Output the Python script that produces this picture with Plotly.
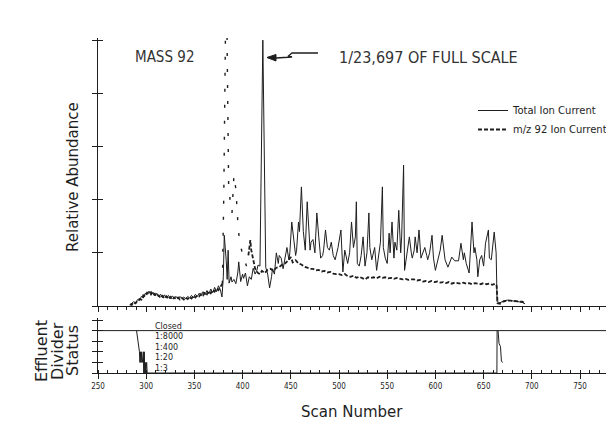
import plotly.graph_objects as go

# ---------------- data ----------------
tic_scan = [283, 285, 287, 289, 291, 293, 295, 297, 299, 301, 303, 305, 307, 309, 311, 313, 315, 317, 319, 321,
            323, 325, 327, 329, 331, 333, 335, 337, 339, 341, 343, 345, 347, 349, 351, 353, 355, 357, 359, 361,
            363, 365, 367, 369, 371, 373, 375, 377, 378.6, 380, 381, 383, 384, 385, 386, 388, 389, 391, 393, 395,
            396, 398, 400, 401, 403, 405, 407, 409, 411, 413, 415, 416, 418, 421, 423.5, 424, 426, 428, 430, 431,
            433, 435, 437, 438, 440, 442, 443, 446, 448, 449, 451, 453, 455, 456, 458, 459, 461, 463, 465, 467,
            469, 470, 471, 473, 475, 477, 479, 481, 483, 484, 486, 488, 490, 492, 494, 496, 499, 502, 504, 506,
            509, 511, 513, 515, 517, 518, 519, 521, 523, 525, 527, 529, 531, 532, 534, 537, 539, 541, 543, 545,
            546, 548, 550, 552, 553, 555, 557, 558, 560, 562, 564, 565, 567, 568, 570, 571, 573, 575, 576, 578,
            579, 581, 583, 585, 587, 589, 591, 592, 594, 596.5, 598, 600, 603, 605, 607, 610, 613, 617, 620, 624,
            626.5, 628, 629, 630, 632, 635, 638, 640, 641, 643, 644, 646, 648, 650, 652, 655, 656, 658, 661, 663,
            664, 667, 671, 675, 678, 682, 687, 690, 693]
tic_value = [0.02, 0.05, 0.08, 0.06, 0.12, 0.10, 0.18, 0.15, 0.24, 0.22, 0.28, 0.20, 0.26, 0.19, 0.24, 0.17, 0.22, 0.16, 0.21, 0.15,
             0.20, 0.14, 0.19, 0.15, 0.18, 0.13, 0.18, 0.14, 0.17, 0.13, 0.18, 0.15, 0.20, 0.16, 0.22, 0.18, 0.24, 0.19, 0.27, 0.21,
             0.29, 0.23, 0.32, 0.25, 0.35, 0.27, 0.38, 0.30, 0.17, 0.55, 1.33, 0.86, 0.50, 1.05, 0.43, 0.55, 0.45, 0.50, 0.42, 0.62,
             0.83, 0.46, 0.60, 0.52, 0.62, 0.38, 0.55, 0.50, 0.71, 0.60, 0.68, 0.77, 0.75, 5.00, 0.80, 0.73, 0.60, 0.34, 0.55, 0.70,
             0.60, 1.00, 0.80, 0.95, 0.90, 0.70, 0.80, 1.10, 0.87, 1.00, 1.58, 1.20, 0.95, 1.05, 1.58, 1.40, 2.24, 1.40, 1.05, 1.96,
             1.15, 1.05, 1.20, 1.25, 1.00, 1.75, 1.30, 0.90, 0.95, 1.05, 1.43, 1.10, 1.05, 1.20, 0.95, 0.87, 1.10, 1.43, 0.64, 1.05,
             0.80, 1.00, 1.58, 1.10, 1.30, 1.96, 0.80, 0.75, 0.95, 1.30, 0.75, 1.00, 1.75, 1.10, 0.87, 1.10, 0.67, 0.90, 1.20, 2.24,
             1.10, 0.90, 0.80, 1.37, 1.00, 1.58, 0.90, 1.20, 1.05, 1.80, 1.00, 1.30, 2.65, 0.67, 0.95, 1.10, 1.30, 1.00, 0.90, 1.05,
             1.30, 1.00, 1.43, 0.90, 1.00, 1.10, 0.95, 0.87, 1.00, 1.33, 0.90, 0.67, 0.90, 1.05, 1.33, 0.87, 0.73, 0.92, 0.85, 0.85,
             1.18, 0.95, 0.87, 1.00, 0.80, 0.62, 1.58, 1.00, 1.10, 0.87, 0.55, 0.87, 0.95, 0.75, 1.18, 1.43, 0.90, 0.87, 1.39, 1.00,
             0.08, 0.06, 0.10, 0.11, 0.10, 0.09, 0.08, 0.07, 0.04]

mz92_scan = [283, 285, 287, 289, 291, 293, 295, 297, 299, 301, 303, 305, 307, 309, 311, 313, 315, 317, 319, 321,
             323, 325, 327, 329, 331, 333, 335, 337, 339, 341, 343, 345, 347, 349, 351, 353, 355, 357, 359, 361,
             363, 365, 367, 369, 371, 373, 375, 377, 379, 380.5, 383, 385.5, 387, 389, 391, 393, 395, 396, 397, 399,
             400, 402, 404, 406, 408, 409, 411, 413, 416, 418, 420, 423, 426, 429, 432, 435, 438, 441, 444, 447,
             450, 452, 455, 458, 461, 464, 467, 470, 473, 476, 479, 482, 485, 488, 491, 494, 497, 500, 503, 506,
             509, 512, 515, 518, 521, 524, 527, 530, 533, 536, 539, 542, 545, 548, 551, 554, 557, 560, 563, 566,
             569, 572, 575, 578, 581, 584, 587, 590, 593, 596, 599, 602, 605, 608, 611, 614, 617, 620, 623, 626,
             629, 632, 635, 638, 641, 644, 647, 650, 653, 656, 659, 662, 663.5, 664.5, 667, 670, 674, 678, 682, 686,
             690, 693]
mz92_value = [0.03, 0.02, 0.07, 0.05, 0.10, 0.13, 0.12, 0.20, 0.18, 0.25, 0.22, 0.26, 0.20, 0.23, 0.18, 0.20, 0.15, 0.19, 0.14, 0.18,
              0.13, 0.17, 0.12, 0.16, 0.13, 0.16, 0.12, 0.15, 0.12, 0.16, 0.13, 0.17, 0.14, 0.19, 0.16, 0.20, 0.18, 0.23, 0.20, 0.26,
              0.22, 0.28, 0.24, 0.30, 0.27, 0.33, 0.30, 0.36, 0.42, 2.10, 6.50, 2.30, 2.00, 1.75, 2.46, 2.20, 1.60, 1.37, 1.15, 1.05,
              0.90, 0.87, 0.75, 0.95, 1.24, 1.05, 0.85, 0.70, 0.62, 0.60, 0.66, 0.62, 0.68, 0.70, 0.66, 0.72, 0.73, 0.78, 0.80, 0.85,
              0.92, 0.82, 0.86, 0.80, 0.78, 0.74, 0.72, 0.70, 0.70, 0.67, 0.68, 0.65, 0.66, 0.63, 0.64, 0.61, 0.60, 0.60, 0.58, 0.60,
              0.56, 0.55, 0.57, 0.53, 0.55, 0.52, 0.50, 0.54, 0.53, 0.54, 0.52, 0.55, 0.53, 0.54, 0.52, 0.53, 0.51, 0.53, 0.52, 0.50,
              0.51, 0.49, 0.50, 0.50, 0.48, 0.49, 0.46, 0.47, 0.45, 0.47, 0.45, 0.46, 0.44, 0.45, 0.43, 0.45, 0.42, 0.44, 0.43, 0.42,
              0.44, 0.42, 0.43, 0.41, 0.43, 0.42, 0.41, 0.43, 0.41, 0.42, 0.40, 0.42, 0.38, 0.05, 0.04, 0.08, 0.10, 0.10, 0.09, 0.09,
              0.08, 0.05]
# the steep m/z 92 burst (scans 379-406) prints as sparse plotter dots
mz92_burst = (379, 406)

status_labels = ["1:3", "1:20", "1:400", "1:8000", "Closed"]
status_levels = [0, 1, 2, 3, 4]
closed_scan = [250, 800]
closed_level = [4, 4]
status_scan = [290, 291.5, 292.5, 293, 293.5, 294, 294.5, 295, 295.5, 296, 297, 297.5, 298, 298.5, 299, 299.5, 300,
               300.5, 301, 301.5, 663.8, 664, None, 665, 666, 667.5, 668.5, 670]
status_level = [4, 3, 2, 2, 1, 2, 1, 2, 1, 1, 2, 0, 2, 0, 1, 0, 1,
                1, 0, 0, 0, 4, None, 4, 2.8, 2.5, 1.1, 1.0]

x_ticks = [250, 300, 350, 400, 450, 500, 550, 600, 650, 700, 750]

# ---------------- figure ----------------
INK = "#1e1e1e"
# the page body adds an 8px offset, so the figure is made 8px smaller
W, H = 606, 416
L, R, T, B = 90, 0, 30, 51
PW, PH = W - L - R, H - T - B          # 516 x 335
SX0, SY1 = 98, 373                     # screen px of the plot's left / bottom edge


def paper(X, Y):
    """screen pixel -> paper coordinates"""
    return (X - SX0) / PW, (SY1 - Y) / PH


# split the m/z 92 series into the ordinary parts and the burst (both from the same arrays)
i0 = mz92_scan.index(mz92_burst[0])
i1 = mz92_scan.index(mz92_burst[1])
m_x = mz92_scan[:i0 + 1] + [None] + mz92_scan[i1:]
m_y = mz92_value[:i0 + 1] + [None] + mz92_value[i1:]
b_x = mz92_scan[i0:i1 + 1]
b_y = mz92_value[i0:i1 + 1]

fig = go.Figure()
fig.add_trace(go.Scatter(x=tic_scan, y=tic_value, mode="lines", name="Total Ion Current",
                         line=dict(color=INK, width=1)))
fig.add_trace(go.Scatter(x=m_x, y=m_y, mode="lines", name="m/z 92 Ion Current", legendgroup="m92",
                         connectgaps=False, line=dict(color=INK, width=1.8, dash="4px,2px")))
fig.add_trace(go.Scatter(x=b_x, y=b_y, mode="lines", showlegend=False, legendgroup="m92",
                         line=dict(color=INK, width=1.4, dash="3px,13px")))
fig.add_trace(go.Scatter(x=closed_scan, y=closed_level, mode="lines", showlegend=False,
                         line=dict(color=INK, width=1), xaxis="x2", yaxis="y2"))
fig.add_trace(go.Scatter(x=status_scan, y=status_level, mode="lines", showlegend=False,
                         line=dict(color=INK, width=1), xaxis="x2", yaxis="y2"))
# helper traces for the inward half of the cross ticks
fig.add_trace(go.Scatter(x=[None], y=[None], xaxis="x", yaxis="y3", showlegend=False, hoverinfo="skip"))
fig.add_trace(go.Scatter(x=[None], y=[None], xaxis="x2", yaxis="y4", showlegend=False, hoverinfo="skip"))

x0 = 250
x1 = 250 + PW / 0.964
y_main_lo = paper(0, 306)[1]
y_bot_hi = paper(0, 318)[1]

common_x = dict(range=[x0, x1], showgrid=False, zeroline=False, showline=True, linecolor=INK, linewidth=1,
                ticks="outside", tickcolor=INK, tickwidth=1, ticklen=5, tick0=250, dtick=50)
fig.update_layout(
    width=W, height=H, margin=dict(l=L, r=R, t=T, b=B),
    plot_bgcolor="white", paper_bgcolor="white",
    xaxis=dict(**common_x, domain=[0, 1], anchor="y", showticklabels=False,
               minor=dict(ticks="outside", ticklen=3, dtick=10, tickcolor=INK, showgrid=False)),
    yaxis=dict(domain=[y_main_lo, 1], range=[0, 5.04], showgrid=False, zeroline=False, showline=True,
               linecolor=INK, linewidth=1, ticks="outside", ticklen=5, tickcolor=INK, dtick=1,
               showticklabels=False, anchor="x"),
    yaxis3=dict(overlaying="y", anchor="x", range=[0, 5.04], showgrid=False, zeroline=False, showline=False,
                ticks="inside", ticklen=5, tickcolor=INK, dtick=1, showticklabels=False),
    xaxis2=dict(**common_x, domain=[0, 1], anchor="y2", showticklabels=True,
                tickvals=x_ticks, ticktext=[str(v) for v in x_ticks],
                tickfont=dict(family="Liberation Sans Narrow, DejaVu Sans Condensed, sans-serif", size=8, color=INK),
                minor=dict(ticks="inside", ticklen=3, dtick=10, tickcolor=INK, showgrid=False)),
    yaxis2=dict(domain=[0, y_bot_hi], range=[0, 5.19], showgrid=False, zeroline=False, showline=True,
                linecolor=INK, linewidth=1, ticks="outside", ticklen=5, tickcolor=INK, dtick=1,
                showticklabels=False, anchor="x2"),
    yaxis4=dict(overlaying="y2", anchor="x2", range=[0, 5.19], showgrid=False, zeroline=False, showline=False,
                ticks="inside", ticklen=5, tickcolor=INK, dtick=1, showticklabels=False),
    legend=dict(x=paper(473, 0)[0], y=paper(0, 96)[1], xanchor="left", yanchor="top",
                font=dict(family="DejaVu Sans", size=10, color=INK), bgcolor="rgba(0,0,0,0)",
                tracegroupgap=0),
    showlegend=True,
)

ann = []
plot_font = dict(family="Liberation Sans Narrow, DejaVu Sans Condensed, sans-serif", size=16, color="#333333")
px, py = paper(133, 57)
ann.append(dict(x=px, y=py, xref="paper", yref="paper", text="MASS 92", showarrow=False,
                xanchor="left", yanchor="middle", font=dict(plot_font, size=15)))
px, py = paper(337, 57)
ann.append(dict(x=px, y=py, xref="paper", yref="paper", text="1/23,697 OF FULL SCALE", showarrow=False,
                xanchor="left", yanchor="middle", font=plot_font))
title_font = dict(family="DejaVu Sans", size=15, color=INK)
px, py = paper(73, 177)
ann.append(dict(x=px, y=py, xref="paper", yref="paper", text="Relative Abundance", textangle=-90,
                showarrow=False, xanchor="center", yanchor="middle", font=title_font))
px, py = paper(352, 412)
ann.append(dict(x=px, y=py, xref="paper", yref="paper", text="Scan Number",
                showarrow=False, xanchor="center", yanchor="middle", font=title_font))
for word, cx in zip(["Effluent", "Divider", "Status"], [41, 57, 72]):
    px, py = paper(cx, 351)
    ann.append(dict(x=px, y=py, xref="paper", yref="paper", text=word, textangle=-90,
                    showarrow=False, xanchor="center", yanchor="middle",
                    font=dict(family="DejaVu Sans", size=16, color=INK)))
for lab, lev in zip(status_labels, status_levels):
    ann.append(dict(x=307, y=lev + 0.42, xref="x2", yref="y2", text=lab, showarrow=False,
                    xanchor="left", yanchor="middle", font=dict(family="DejaVu Sans", size=8, color=INK)))
fig.update_layout(annotations=ann)

# zig-zag arrow pointing at the big TIC peak
line_pts = [(318, 53), (292, 53), (288.5, 56), (292, 57), (276, 58), (268, 57.5)]
head_pts = [(276, 54.5), (267, 57.5), (276, 61)]


def path(pts, close=False):
    s = ""
    for i, (X, Y) in enumerate(pts):
        a, b = paper(X, Y)
        s += ("M" if i == 0 else "L") + f"{a:.5f},{b:.5f} "
    return s + ("Z" if close else "")


fig.add_shape(type="path", path=path(line_pts), xref="paper", yref="paper",
              line=dict(color=INK, width=1.3))
fig.add_shape(type="path", path=path(head_pts, True), xref="paper", yref="paper",
              line=dict(color=INK, width=1), fillcolor=INK)

fig.write_html("out.html")
